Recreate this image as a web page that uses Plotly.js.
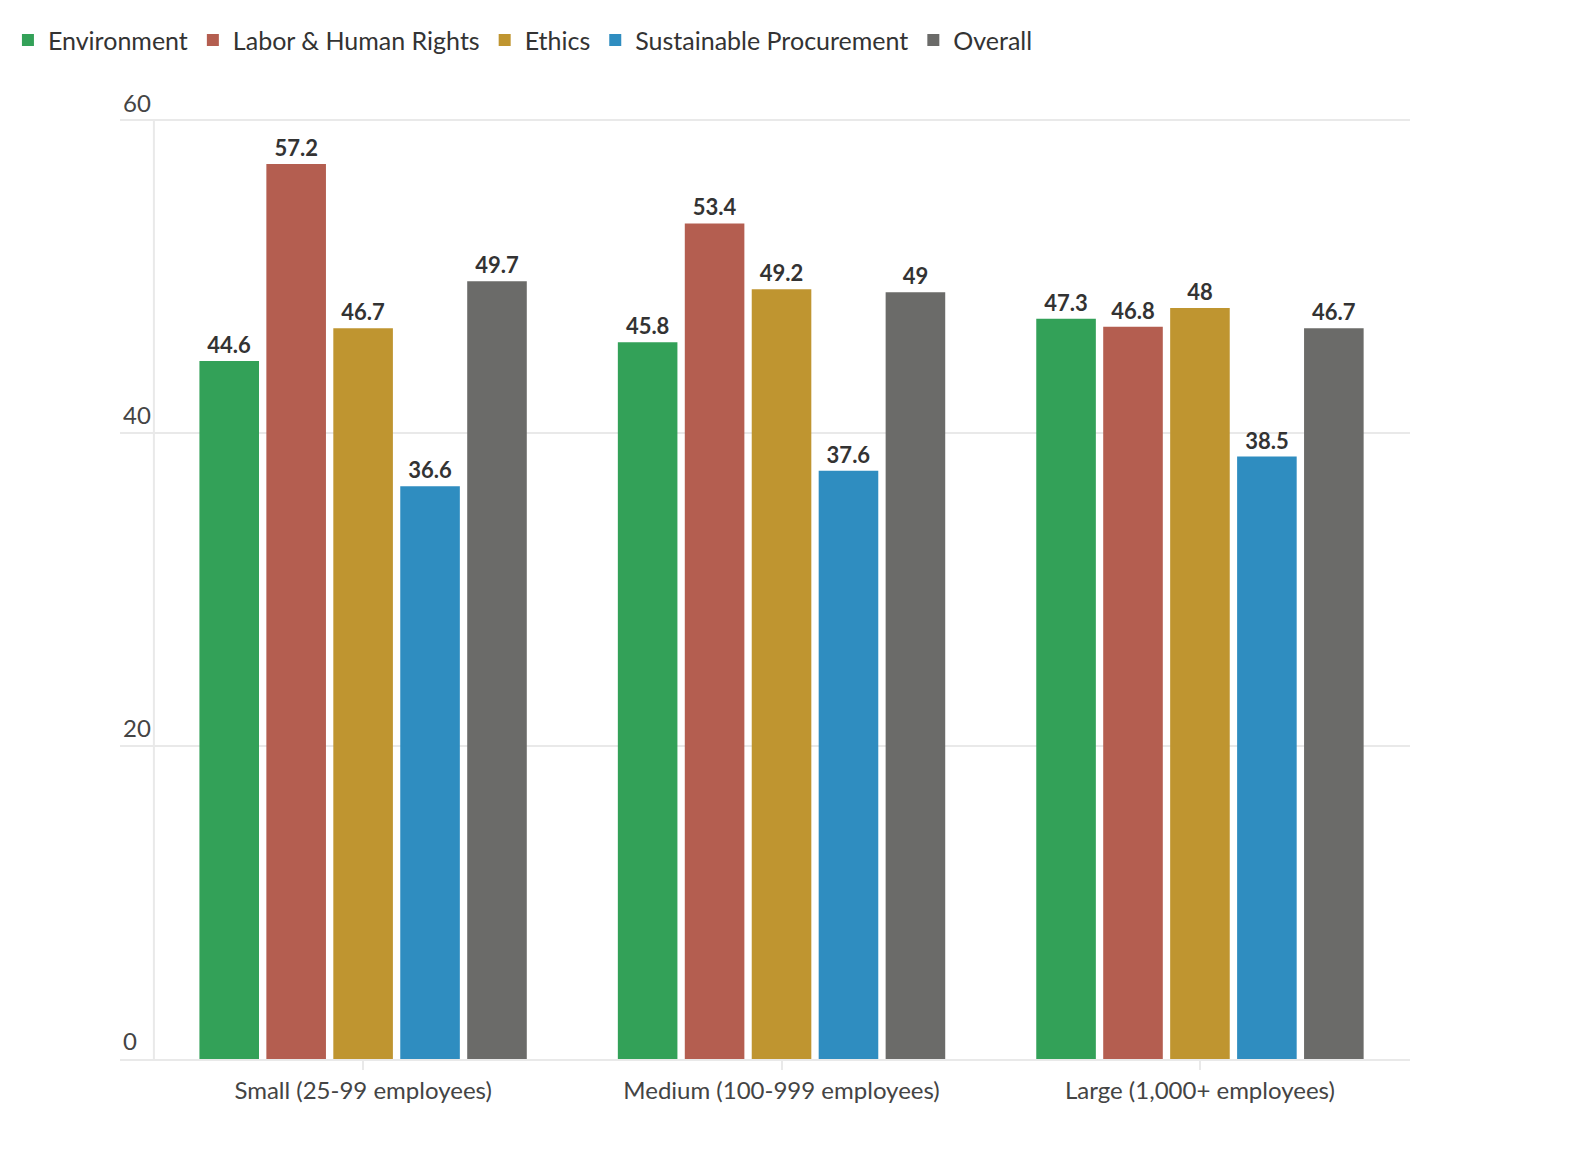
<!DOCTYPE html>
<html>
<head>
<meta charset="utf-8">
<script src="https://cdn.plot.ly/plotly-3.0.1.min.js"></script>
<style>
  html, body { margin: 0; padding: 0; background: #fff; }
  #chart { width: 1588px; height: 1150px; }
</style>
</head>
<body>
<div id="chart"></div>
<script>
// company size groups
var sizes = ['Small (25-99 employees)', 'Medium (100-999 employees)', 'Large (1,000+ employees)'];

var environment = [44.6, 45.8, 47.3];
var laborRights = [57.2, 53.4, 46.8];
var ethics = [46.7, 49.2, 48];
var procurement = [36.6, 37.6, 38.5];
var overall = [49.7, 49, 46.7];

var seriesNames = ['Environment', 'Labor & Human Rights', 'Ethics', 'Sustainable Procurement', 'Overall'];
var seriesValues = [environment, laborRights, ethics, procurement, overall];
var seriesColors = ['#33a158', '#b45e50', '#bf9530', '#2f8dc0', '#6b6b69'];

var traces = seriesNames.map(function (name, i) {
	return {
		type: 'bar',
		name: name,
		x: sizes,
		y: seriesValues[i],
		text: seriesValues[i].map(String),
		textposition: 'outside',
		textfont: { family: 'Lato, sans-serif', size: 22, color: '#333333', weight: 'bold' },
		cliponaxis: false,
		marker: { color: seriesColors[i] },
		hoverinfo: 'skip'
	};
});

var gridColor = '#e9e9e9';

var layout = {
	width: 1588,
	height: 1150,
	margin: { l: 120, r: 178, t: 117, b: 91 },
	paper_bgcolor: '#ffffff',
	plot_bgcolor: '#ffffff',
	font: { family: 'Lato, sans-serif', size: 24, color: '#444444' },
	barmode: 'group',
	bargap: 0.2,
	bargroupgap: 0.11,
	showlegend: true,
	legend: {
		orientation: 'h',
		x: 0.005,
		xref: 'container',
		xanchor: 'left',
		y: 0.985,
		yref: 'container',
		yanchor: 'top',
		font: { size: 25, color: '#333333' },
		itemwidth: 30,
		traceorder: 'normal'
	},
	xaxis: {
		type: 'category',
		range: [-0.581, 2.502],
		showgrid: false,
		showline: true,
		linecolor: gridColor,
		linewidth: 2,
		ticks: 'outside',
		ticklen: 9,
		tickwidth: 2,
		tickcolor: gridColor,
		tickfont: { size: 24, color: '#444444' },
		fixedrange: true
	},
	yaxis: {
		range: [0, 60.2],
		tickvals: [0, 20, 40, 60],
		ticklabelposition: 'inside',
		ticklabeloverflow: 'allow',
		ticklabelshift: -17,
		ticklabelstandoff: 0,
		showgrid: true,
		gridcolor: gridColor,
		gridwidth: 2,
		zeroline: false,
		showline: false,
		tickfont: { size: 24, color: '#444444' },
		fixedrange: true
	},
	shapes: [{
		type: 'line',
		xref: 'x', yref: 'y',
		x0: -0.5, x1: -0.5, y0: 0, y1: 60,
		line: { color: gridColor, width: 2 },
		layer: 'below'
	}]
};

Plotly.newPlot('chart', traces, layout, { displayModeBar: false, staticPlot: true });
</script>
</body>
</html>
